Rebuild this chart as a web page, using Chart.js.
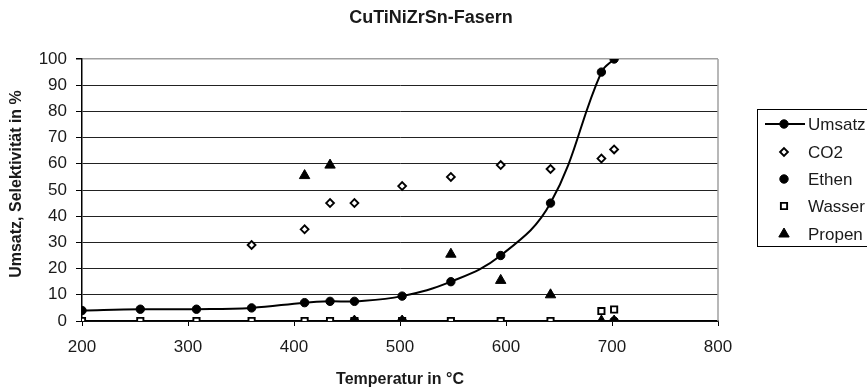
<!DOCTYPE html>
<html>
<head>
<meta charset="utf-8">
<script src="https://cdn.jsdelivr.net/npm/chart.js@4/dist/chart.umd.min.js"></script>
<style>
  html, body { margin: 0; padding: 0; background: #fff; }
  #wrap { width: 867px; height: 390px; }
</style>
</head>
<body>
<div id="wrap"><canvas id="c" width="867" height="390"></canvas></div>
<script>
// ---- data ----
const chartTitle = "CuTiNiZrSn-Fasern";
const xTitle = "Temperatur in °C";
const yTitle = "Umsatz, Selektivität in %";
const seriesNames = ["Umsatz", "CO2", "Ethen", "Wasser", "Propen"];

const temperatures = [200, 255, 308, 360, 410, 434, 457, 502, 548, 595, 642, 690, 702];
const umsatz = [4, 4.5, 4.5, 5, 7, 7.5, 7.5, 9.5, 15, 25, 45, 95, 100];
const co2    = [null, null, null, 29, 35, 45, 45, 51.5, 55, 59.5, 58, 62, 65.5];
const ethen  = [null, null, null, null, null, null, 0, 0, null, null, null, null, 0];
const wasser = [0, 0, 0, 0, 0, 0, 0, 0, 0, 0, 0, 3.8, 4.4];
const propen = [null, null, null, null, 55.5, 59.5, 0, 0, 25.5, 15.5, 10, 0, 0];

const xMin = 200, xMax = 800, xStep = 100;
const yMin = 0, yMax = 100, yStep = 10;

function toPoints(vals) {
  const pts = [];
  vals.forEach((v, i) => { if (v !== null) pts.push({ x: temperatures[i], y: v }); });
  return pts;
}

const FONT = "'Liberation Sans', Arial, sans-serif";
const TXT = '#1a1a1a';

const markerStyles = {
  Umsatz: { pointStyle: 'circle', radius: 4.2, bg: '#000', border: '#000', bw: 1 },
  CO2:    { pointStyle: 'rectRot', radius: 3.9, bg: '#fff', border: '#000', bw: 1.9 },
  Ethen:  { pointStyle: 'circle', radius: 4.2, bg: '#000', border: '#000', bw: 1 },
  Wasser: { pointStyle: 'rect', radius: 4.4, bg: '#fff', border: '#000', bw: 1.9 },
  Propen: { pointStyle: 'triangle', radius: 6, bg: '#000', border: '#000', bw: 1 }
};

const seriesValues = [umsatz, co2, ethen, wasser, propen];
const datasets = seriesNames.map((name, i) => {
  const m = markerStyles[name];
  return {
    label: name,
    data: toPoints(seriesValues[i]),
    showLine: name === 'Umsatz',
    borderColor: '#000',
    borderWidth: name === 'Umsatz' ? 2 : 0,
    tension: 0.4,
    pointStyle: m.pointStyle,
    pointRadius: m.radius,
    pointBackgroundColor: m.bg,
    pointBorderColor: m.border,
    pointBorderWidth: m.bw,
    order: seriesNames.length - i
  };
});

const decorPlugin = {
  id: 'decor',
  afterDraw(chart) {
    const ctx = chart.ctx;
    const a = chart.chartArea;
    ctx.save();
    // right border of plot area
    ctx.strokeStyle = '#a0a0a0';
    ctx.lineWidth = 1.5;
    ctx.beginPath();
    ctx.moveTo(a.right, a.top);
    ctx.lineTo(a.right, a.bottom);
    ctx.stroke();
    // title
    ctx.fillStyle = TXT;
    ctx.font = "bold 18px " + FONT;
    ctx.textAlign = 'center';
    ctx.textBaseline = 'middle';
    ctx.fillText(chartTitle, 431, 18);
    // y axis title
    ctx.save();
    ctx.translate(17, 184);
    ctx.rotate(-Math.PI / 2);
    ctx.font = "bold 16px " + FONT;
    ctx.fillText(yTitle, 0, 0);
    ctx.restore();
    // legend box
    const lx = 757, ly = 109, lw = 140, lh = 137;
    ctx.strokeStyle = '#000';
    ctx.lineWidth = 1;
    ctx.strokeRect(lx + 0.5, ly + 0.5, lw, lh);
    const rowY = [124, 152, 179, 206, 234];
    ctx.font = "17px " + FONT;
    ctx.textAlign = 'left';
    seriesNames.forEach((name, i) => {
      const y = rowY[i];
      const m = markerStyles[name];
      if (name === 'Umsatz') {
        ctx.strokeStyle = '#000';
        ctx.lineWidth = 2;
        ctx.beginPath();
        ctx.moveTo(765, y);
        ctx.lineTo(805, y);
        ctx.stroke();
      }
      ctx.fillStyle = m.bg;
      ctx.strokeStyle = m.border;
      ctx.lineWidth = m.bw;
      Chart.helpers.drawPoint(ctx, { pointStyle: m.pointStyle, radius: m.radius, borderWidth: m.bw, rotation: 0 }, 784, y);
      ctx.fillStyle = TXT;
      ctx.fillText(name, 808, y + 1);
    });
    ctx.restore();
  }
};

new Chart(document.getElementById('c'), {
  type: 'scatter',
  data: { datasets },
  plugins: [decorPlugin],
  options: {
    responsive: false,
    animation: false,
    devicePixelRatio: 1,
    layout: { padding: { left: 0, right: 149, top: 59, bottom: 0 } },
    plugins: {
      legend: { display: false },
      title: { display: false },
      tooltip: { enabled: false }
    },
    scales: {
      x: {
        type: 'linear',
        min: xMin, max: xMax,
        afterFit(scale) { scale.height = 69; },
        ticks: { stepSize: xStep, color: TXT, font: { family: FONT, size: 17 }, padding: 11, maxRotation: 0 },
        grid: { drawOnChartArea: false, tickLength: 5, color: '#000', tickColor: '#000', lineWidth: 1 },
        border: { color: '#000', width: 1.5 },
        title: { display: true, text: xTitle, color: TXT, font: { family: FONT, size: 16, weight: 'bold' }, padding: { top: 0, bottom: 1 } }
      },
      y: {
        type: 'linear',
        min: yMin, max: yMax,
        afterFit(scale) { scale.width = 82; },
        ticks: { stepSize: yStep, color: TXT, font: { family: FONT, size: 17 }, padding: 9 },
        grid: {
          drawOnChartArea: true,
          tickLength: 6,
          color: (c) => (c.tick && c.tick.value === yMax) ? '#a0a0a0' : '#222',
          tickColor: '#000',
          lineWidth: (c) => (c.tick && c.tick.value === yMax) ? 1.5 : 1
        },
        border: { color: '#000', width: 1.5 },
        title: { display: false }
      }
    }
  }
});
</script>
</body>
</html>
